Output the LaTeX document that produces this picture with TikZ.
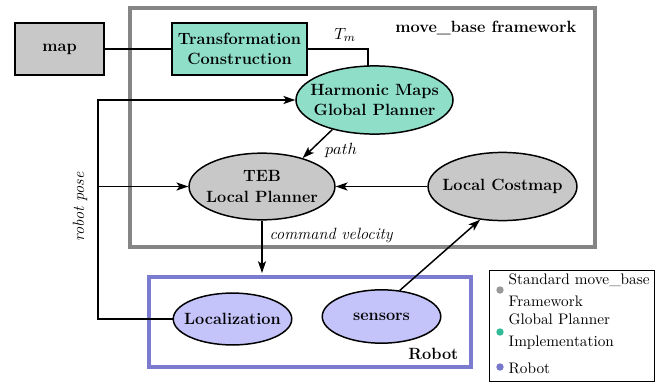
\documentclass[tikz,border=0pt]{standalone}
\usetikzlibrary{shapes.geometric,arrows.meta}
\definecolor{tealfill}{HTML}{8FDFC8}
\definecolor{grayfill}{HTML}{C8C8C8}
\definecolor{bluefill}{HTML}{C4C4FA}
\definecolor{blueframe}{HTML}{7B7BD0}
\definecolor{grayframe}{HTML}{858585}
\definecolor{graydot}{HTML}{999999}
\definecolor{tealdot}{HTML}{33BB99}
\definecolor{bluedot}{HTML}{7777CC}
\begin{document}
\begin{tikzpicture}[x=0.675pt,y=-0.675pt,
  >={Stealth[length=8pt,width=5.5pt,inset=2pt]}, line width=1pt,
  every node/.style={font=\fontsize{11}{13.5}\selectfont},
  bf/.style={font=\fontsize{11}{13.5}\selectfont\bfseries},
  it/.style={font=\fontsize{11}{13.5}\selectfont\itshape},
  box/.style={draw, rectangle, inner sep=0pt, bf, align=center},
  ell/.style={draw, ellipse, inner xsep=-10pt, inner ysep=0pt, bf, align=center},
  frame/.style={line width=2.2pt},
  ldot/.style={circle, inner sep=0pt, minimum size=5pt},
  ltext/.style={anchor=west, align=left, inner sep=0pt, font=\fontsize{10.3}{13.5}\selectfont}]
\useasboundingbox (0,0) rectangle (664,382);
% frames
\draw[frame, grayframe] (130,8) rectangle (595,247);
\draw[frame, blueframe] (149,277) rectangle (471,367);
\node[anchor=east, bf] (mbf) at (582,28) {move\_base framework};
\node[anchor=east, bf] (rob) at (464,354) {Robot};
% nodes
\node[box, fill=grayfill, minimum width=60pt, minimum height=35pt] (map) at (59.5,49) {map};
\node[box, fill=tealfill, minimum width=91pt, minimum height=35pt] (tc) at (239.5,49) {Transformation\\[-0.5pt]Construction};
\node[ell, fill=tealfill, minimum width=106pt, minimum height=46pt] (hm) at (374.5,100) {Harmonic Maps\\[0pt]Global Planner};
\node[ell, fill=grayfill, minimum width=98.5pt, minimum height=45pt] (teb) at (262,186.5) {TEB\\[1pt]Local Planner};
\node[ell, fill=grayfill, minimum width=100.5pt, minimum height=46pt] (cm) at (502.5,186.5) {Local Costmap};
\node[ell, fill=bluefill, minimum width=80pt, minimum height=35pt] (loc) at (232.5,319) {Localization};
\node[ell, fill=bluefill, minimum width=80pt, minimum height=36pt] (sens) at (381.5,316.5) {sensors};
% connectors
\draw (map) -- (tc);
\coordinate (hmtop) at (368,66.2);
\draw (tc.east) -| (hmtop);
\node (tml) at (345,35) {$T_m$};
\draw[->] (hm.215) -- (teb.35);
\node (pathl) at (341,150) {$path$};
\draw[->] (cm.west) -- (teb.east);
\coordinate (cv) at (262,273);
\draw[->] (teb.south) -- (cv);
\node[anchor=west, it] (cvl) at (264,236) {command velocity};
\coordinate (rpT) at (98,100);
\coordinate (rpM) at (98,186.5);
\draw[->] (loc.west) -| (rpT) -- (hm.west);
\draw[->] (rpM) -- (teb.west);
\node[rotate=90, it] (rpl) at (80,207) {robot pose};
\draw[->] (sens.55) -- (cm.236);
% legend
\draw[line width=0.6pt] (489,270) rectangle (654,381);
\node[ldot, fill=graydot] (d1) at (500,290) {};
\node[ltext] (t1) at (508,290) {Standard move\_base\\[1.3pt]Framework};
\node[ldot, fill=tealdot] (d2) at (500,332) {};
\node[ltext] (t2) at (508,332) {Global Planner\\[1.3pt]Implementation};
\node[ldot, fill=bluedot] (d3) at (500,367) {};
\node[ltext] (t3) at (508,368) {Robot};
\end{tikzpicture}
\end{document}
